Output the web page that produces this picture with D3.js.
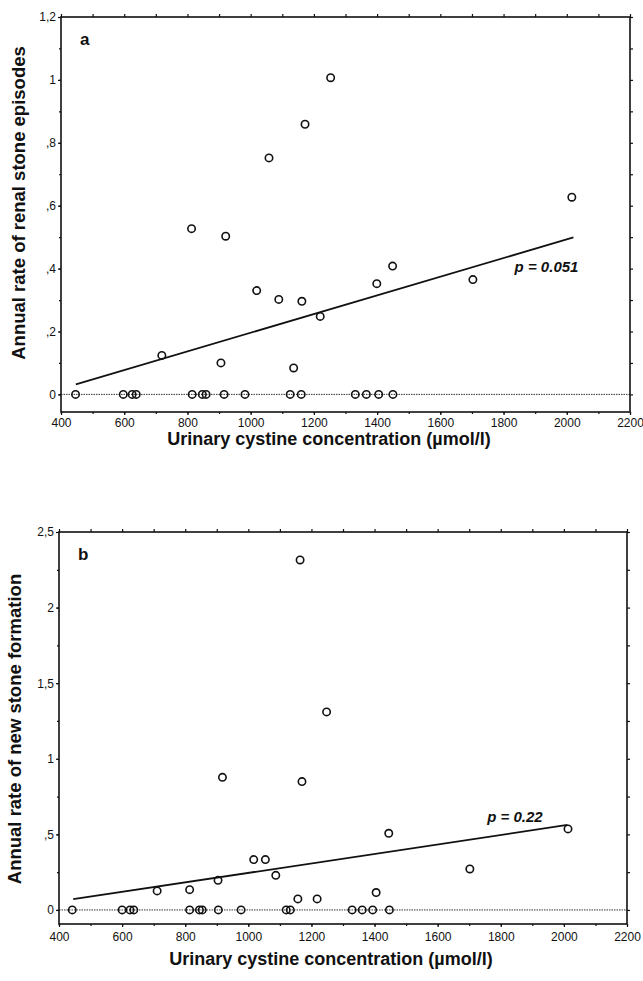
<!DOCTYPE html>
<html>
<head>
<meta charset="utf-8">
<script src="https://cdn.jsdelivr.net/npm/d3@7"></script>
<style>
  body { margin: 0; background: #fff; }
  text { font-family: "Liberation Sans", Arial, sans-serif; fill: #111; }
</style>
</head>
<body>
<div id="chart"></div>
<script>
// x ticks shared by both panels
var xMajor = [400, 600, 800, 1000, 1200, 1400, 1600, 1800, 2000, 2200];
var xMinor = d3.range(400, 2201, 100);

// panel a: renal stone episodes
var renalConc = [446, 597, 625, 638, 815, 847, 859, 916, 982, 1125, 1160, 1331, 1366, 1405, 1450,
                 719, 813, 921, 1058, 1172, 1253, 906, 1019, 1089, 1162, 1220, 1136, 1399, 1449, 1703, 2016];
var renalRate = [0, 0, 0, 0, 0, 0, 0, 0, 0, 0, 0, 0, 0, 0, 0,
                 0.124, 0.527, 0.503, 0.752, 0.859, 1.007, 0.10, 0.33, 0.302, 0.296, 0.248, 0.084, 0.352, 0.408, 0.365, 0.627];
var renalFitConc = [447, 2021];
var renalFitRate = [0.032, 0.499];
var renalTicks = [0, 0.2, 0.4, 0.6, 0.8, 1, 1.2];
var renalMinor = d3.range(0, 1.21, 0.1);

// panel b: new stone formation
var newConc = [442, 600, 625, 637, 814, 845, 854, 905, 977, 1120, 1133, 1329, 1361, 1394, 1447,
               711, 814, 904, 918, 1017, 1054, 1087, 1170, 1157, 1218, 1164, 1248, 1445, 1405, 1702, 2013];
var newRate = [0, 0, 0, 0, 0, 0, 0, 0, 0, 0, 0, 0, 0, 0, 0,
               0.126, 0.134, 0.196, 0.877, 0.333, 0.333, 0.229, 0.849, 0.073, 0.073, 2.315, 1.31, 0.507, 0.115, 0.271, 0.536];
var newFitConc = [445, 2011];
var newFitRate = [0.071, 0.562];
var newTicks = [0, 0.5, 1, 1.5, 2, 2.5];
var newMinor = d3.range(0, 2.51, 0.25);

var W = 643, H = 981;

var svg = d3.select("#chart").append("svg")
    .attr("width", W)
    .attr("height", H);

// ",2" style labels, european decimal comma, no leading zero
function fmt(d) {
  if (d === 0) return "0";
  return d3.format("~g")(d).replace(/^0/, "").replace(".", ",");
}

function drawPanel(p) {
  var x = d3.scaleLinear().domain([400, 2200]).range([p.left, p.right]);
  var y = d3.scaleLinear().domain(p.yDomain).range([p.bottom, p.top]);
  var g = svg.append("g");

  // zero reference (dotted)
  g.append("line")
    .attr("x1", p.left).attr("x2", p.right)
    .attr("y1", y(0)).attr("y2", y(0))
    .attr("stroke", "#333")
    .attr("stroke-width", 1)
    .attr("stroke-dasharray", "1.5,1");

  // axes
  var ax = [];
  ax.push(g.append("g").attr("transform", "translate(0," + p.bottom + ")")
    .call(d3.axisBottom(x).tickValues(xMajor).tickSize(3).tickPadding(p.xPad).tickFormat(d3.format("d"))));
  ax.push(g.append("g").attr("transform", "translate(0," + p.bottom + ")")
    .call(d3.axisBottom(x).tickValues(xMinor).tickSize(2).tickFormat("")));
  ax.push(g.append("g").attr("transform", "translate(0," + p.top + ")")
    .call(d3.axisTop(x).tickValues(xMinor).tickSize(3).tickFormat("")));
  ax.push(g.append("g").attr("transform", "translate(" + p.left + ",0)")
    .call(d3.axisLeft(y).tickValues(p.yTicks).tickSize(3).tickPadding(2).tickFormat(fmt)));
  ax.push(g.append("g").attr("transform", "translate(" + p.left + ",0)")
    .call(d3.axisLeft(y).tickValues(p.yMinor).tickSize(2).tickFormat("")));
  ax.push(g.append("g").attr("transform", "translate(" + p.right + ",0)")
    .call(d3.axisRight(y).tickValues(p.yMinor).tickSize(3).tickFormat("")));

  ax.forEach(function(a) {
    a.select(".domain").remove();
    a.selectAll("line").attr("stroke", "#111").attr("stroke-width", 1.2);
    a.selectAll("text").style("font-size", "12px").attr("fill", "#111");
  });

  // frame
  g.append("rect")
    .attr("x", p.left).attr("y", p.top)
    .attr("width", p.right - p.left).attr("height", p.bottom - p.top)
    .attr("fill", "none")
    .attr("stroke", "#111")
    .attr("stroke-width", 1.6);

  // regression line
  g.append("line")
    .attr("x1", x(p.fitConc[0])).attr("y1", y(p.fitRate[0]))
    .attr("x2", x(p.fitConc[1])).attr("y2", y(p.fitRate[1]))
    .attr("stroke", "#111")
    .attr("stroke-width", 1.8);

  // points
  g.selectAll("circle.pt")
    .data(p.conc)
    .enter().append("circle")
    .attr("class", "pt")
    .attr("cx", function(d) { return x(d); })
    .attr("cy", function(d, i) { return y(p.rate[i]); })
    .attr("r", 3.7)
    .attr("fill", "none")
    .attr("stroke", "#111")
    .attr("stroke-width", 1.6);

  // panel letter
  g.append("text")
    .attr("x", p.left + 19).attr("y", p.top + 28)
    .style("font-size", "17px").style("font-weight", "bold")
    .text(p.letter);

  // p value
  g.append("text")
    .attr("x", x(p.pAt[0])).attr("y", y(p.pAt[1]))
    .style("font-size", "15px").style("font-weight", "bold").style("font-style", "italic")
    .text(p.pText);

  // axis titles
  g.append("text")
    .attr("x", p.xTitleX).attr("y", p.xTitleY)
    .attr("text-anchor", "middle")
    .style("font-size", "18px").style("font-weight", "bold")
    .text("Urinary cystine concentration (\u00b5mol/l)");

  g.append("text")
    .attr("transform", "translate(" + p.yTitleX + "," + p.yTitleMid + ") rotate(-90)")
    .attr("text-anchor", "middle")
    .style("font-size", "18.5px").style("font-weight", "bold")
    .text(p.yTitle);
}

drawPanel({
  left: 61, right: 630, top: 17, bottom: 412,
  yDomain: [-0.056, 1.2], yTicks: renalTicks, yMinor: renalMinor, xPad: 3,
  conc: renalConc, rate: renalRate,
  fitConc: renalFitConc, fitRate: renalFitRate,
  letter: "a", pText: "p = 0.051", pAt: [1835, 0.39],
  xTitleX: 329, xTitleY: 445, yTitleX: 25, yTitleMid: 203,
  yTitle: "Annual rate of renal stone episodes"
});

drawPanel({
  left: 59, right: 627, top: 532, bottom: 924,
  yDomain: [-0.093, 2.5], yTicks: newTicks, yMinor: newMinor, xPad: 5,
  conc: newConc, rate: newRate,
  fitConc: newFitConc, fitRate: newFitRate,
  letter: "b", pText: "p = 0.22", pAt: [1757, 0.58],
  xTitleX: 331, xTitleY: 965, yTitleX: 21, yTitleMid: 729,
  yTitle: "Annual rate of new stone formation"
});
</script>
</body>
</html>
